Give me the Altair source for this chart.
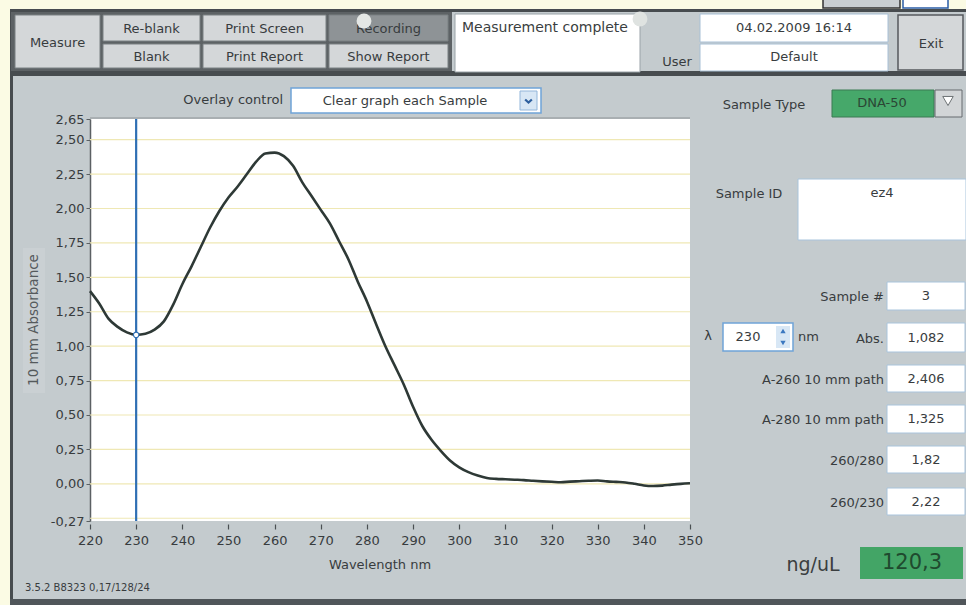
import altair as alt
import pandas as pd

# ---- spectrum (10 mm path absorbance) ----
wavelength_nm = [220, 222, 224, 226, 228, 230, 232, 234, 236, 238,
                 240, 242, 244, 246, 248, 250, 252, 254, 256, 258,
                 260, 262, 264, 266, 268, 270, 272, 274, 276, 278,
                 280, 282, 284, 286, 288, 290, 292, 294, 296, 298,
                 300, 302, 304, 306, 308, 310, 312, 314, 316, 318,
                 320, 322, 324, 326, 328, 330, 332, 334, 336, 338,
                 340, 342, 344, 346, 348, 350]
absorbance = [1.40, 1.31, 1.20, 1.14, 1.10, 1.082, 1.09, 1.12, 1.18, 1.30,
              1.45, 1.58, 1.72, 1.86, 1.98, 2.08, 2.16, 2.25, 2.34, 2.40,
              2.406, 2.38, 2.31, 2.19, 2.09, 1.99, 1.89, 1.76, 1.63, 1.47,
              1.325, 1.16, 1.00, 0.86, 0.72, 0.56, 0.42, 0.32, 0.24, 0.17,
              0.12, 0.085, 0.06, 0.042, 0.036, 0.033, 0.030, 0.027, 0.022, 0.018,
              0.015, 0.012, 0.016, 0.019, 0.022, 0.024, 0.018, 0.014, 0.010, 0.000,
              -0.012, -0.016, -0.013, -0.006, 0.000, 0.004]

x_ticks = [220, 230, 240, 250, 260, 270, 280, 290, 300, 310, 320, 330, 340, 350]
y_ticks = [2.65, 2.50, 2.25, 2.00, 1.75, 1.50, 1.25, 1.00, 0.75, 0.50, 0.25, 0.00, -0.27]
grid_levels = [2.50, 2.25, 2.00, 1.75, 1.50, 1.25, 1.00, 0.75, 0.50, 0.25, 0.00, -0.25]
x_domain = [220, 350]
y_domain = [-0.27, 2.65]

cursor_nm = 230
cursor_abs = 1.082

# ---- instrument readouts ----
readout_labels = ["Sample #", "Abs.", "A-260 10 mm path", "A-280 10 mm path", "260/280", "260/230"]
readout_values = ["3", "1,082", "2,406", "1,325", "1,82", "2,22"]
concentration = "120,3"
sample_type = "DNA-50"
sample_id = "ez4"
timestamp = "04.02.2009  16:14"
user_name = "Default"
status_text = "Measurement complete"
overlay_mode = "Clear graph each Sample"
firmware = "3.5.2 B8323 0,17/128/24"

# ---- page geometry ----
W, H = 966, 605
PL, PT, PR, PB = 90, 119, 690, 521          # plot-area edges in page pixels
FONT = "DejaVu Sans"
INK = "#383c3e"
PANEL = "#c4cbce"
BTN = "#d4d7d9"
DARK = "#474c4f"
PAPER = "#fbfbe4"
GREEN = "#46a86a"

one = pd.DataFrame({"_": [0]})


def rect(x0, y0, x1, y1, fill, stroke=None, sw=1.0):
    kw = {"fill": fill}
    if stroke:
        kw.update(stroke=stroke, strokeWidth=sw)
    else:
        kw.update(strokeWidth=0)
    return alt.Chart(one).mark_rect(**kw).encode(
        x=alt.value(x0 - PL), x2=alt.value(x1 - PL),
        y=alt.value(y0 - PT), y2=alt.value(y1 - PT))


def txt(x, y, s, size=13, color=INK, align="center", weight="normal", angle=0):
    kw = dict(text=s, fontSize=size, color=color, align=align, baseline="middle",
              font=FONT, fontWeight=weight)
    if angle:
        kw["angle"] = angle
    return alt.Chart(one).mark_text(**kw).encode(x=alt.value(x - PL), y=alt.value(y - PT))


def glyph(x, y, shape, size, fill=None, stroke=None, sw=1.0):
    kw = {"shape": shape, "size": size, "opacity": 1}
    if fill:
        kw.update(filled=True, fill=fill)
    else:
        kw.update(filled=False)
    if stroke:
        kw.update(stroke=stroke, strokeWidth=sw)
    return alt.Chart(one).mark_point(**kw).encode(x=alt.value(x - PL), y=alt.value(y - PT))


layers = []

# paper margin and frame
layers += [
    rect(0, 0, 10, H, PAPER),
    rect(0, 0, W, 9, PAPER),
    rect(823, -2, 900, 8, "#c9ced1", "#333", 1.5),
    rect(903, -2, 948, 8, "white", "#2a5ca8", 1.5),
    rect(10, 9, 13, H, DARK),
    rect(10, 9, W, 12, DARK),
    rect(11, 12, 452, 71, "#5d6265"),
    rect(10, 71, W, 76, DARK),
    rect(10, 599, W, H, "#50565a"),
]

# toolbar buttons
buttons = [
    (15, 15, 100, 68, "Measure", BTN),
    (103, 15, 200, 41, "Re-blank", BTN),
    (103, 44, 200, 68, "Blank", BTN),
    (203, 15, 326, 41, "Print Screen", BTN),
    (203, 44, 326, 68, "Print Report", BTN),
    (329, 15, 448, 41, "Recording", "#8e9396"),
    (329, 44, 448, 68, "Show Report", BTN),
]
for x0, y0, x1, y1, name, fill in buttons:
    layers.append(rect(x0, y0, x1, y1, fill, "#7b8083", 1))
    layers.append(txt((x0 + x1) / 2, (y0 + y1) / 2 + 1, name, size=13))

layers += [
    glyph(364, 21, "circle", 220, fill="#e4e7e5"),
    rect(455, 14, 640, 72, "white", "#9aa3a8", 1),
    txt(462, 28, status_text, size=14, align="left", color="#3a3e40"),
    glyph(640, 19, "circle", 220, fill="#dfe3e1"),
    txt(677, 62, "User", size=13),
    rect(700, 14, 888, 42, "white", "#a8c0d6", 1),
    txt(794, 28, timestamp, size=13),
    rect(700, 44, 888, 71, "white", "#a8c0d6", 1),
    txt(794, 57, user_name, size=13),
    rect(898, 15, 963, 70, BTN, "#555a5d", 1.5),
    txt(931, 44, "Exit", size=13),
]

# graph controls
layers += [
    txt(283, 100, "Overlay control", size=13, align="right"),
    rect(291, 88, 541, 113, "white", "#6fa4d8", 1.5),
    txt(405, 101, overlay_mode, size=13),
    rect(520, 91, 537, 110, "#d8e7f5", "#93b6da", 1),
    glyph(528.5, 101, "M -1 -0.45 L 0 0.45 L 1 -0.45", 45, stroke="#2d5f9e", sw=2.2),
    rect(23, 248, 45, 393, "#cad0d3"),
    txt(34, 320, "10 mm Absorbance", size=13.5, color="#555a5c", angle=270),
    txt(380, 565, "Wavelength nm", size=13),
    txt(25, 588, firmware, size=10, align="left"),
]

# right-hand sample panel
layers += [
    txt(764, 105, "Sample Type", size=13),
    rect(832, 90, 934, 117, GREEN, "#3a7a52", 1),
    txt(882, 103, sample_type, size=13, color="#2b4634"),
    rect(935, 90, 962, 117, "#d2d5d7", "#666b6e", 1),
    glyph(948, 101, "triangle-down", 110, fill="white", stroke="#6d7275", sw=1),
    txt(749, 194, "Sample ID", size=13),
    rect(798, 179, 966, 240, "white", "#a9c4dc", 1),
    txt(882, 193, sample_id, size=13),
    txt(708, 336, "λ", size=13),
    rect(723, 323, 793, 351, "white", "#6fa4d8", 1.5),
    txt(748, 337, str(cursor_nm), size=13),
    rect(776, 326, 790, 348, "#d8e7f5"),
    glyph(783, 331, "triangle-up", 28, fill="#3b78c0"),
    glyph(783, 343, "triangle-down", 28, fill="#3b78c0"),
    txt(798, 337, "nm", size=13, align="left"),
]
row_boxes = [(282, 310), (323, 352), (365, 392), (405, 433), (446, 473), (488, 515)]
for (y0, y1), name, val in zip(row_boxes, readout_labels, readout_values):
    ym = (y0 + y1) / 2
    layers.append(txt(884, ym + 1, name, size=13, align="right"))
    layers.append(rect(887, y0, 965, y1, "white", "#a9c4dc", 1))
    layers.append(txt(926, ym, val, size=13))

layers += [
    txt(813, 565, "ng/uL", size=19, color="#3a3e40"),
    rect(860, 547, 963, 579, "#43a566"),
    txt(912, 563, concentration, size=21, color="#1f4a2e"),
]

# ---- spectrum plot ----
xs = alt.Scale(domain=x_domain, nice=False, zero=False)
ys = alt.Scale(domain=y_domain, nice=False, zero=False)

# decimal comma, plain hyphen for negatives
y_label_expr = ("(datum.value < 0 ? '-' : '') + "
                "replace(format(abs(datum.value), '.2f'), '.', ',')")

x_axis = alt.Axis(
    values=x_ticks, title=None, grid=False, domain=False, ticks=True, tickSize=5,
    tickColor="#4a4f52", tickWidth=1.2, offset=3, labelPadding=5, labelFontSize=13,
    labelFont=FONT, labelColor=INK, labelFlush=False, labelOverlap=False)
y_axis = alt.Axis(
    values=y_ticks, title=None, grid=False, domain=True, domainColor="#5b6063",
    domainWidth=1.5, tickSize=4, tickColor="#5b6063", labelPadding=2,
    labelFontSize=13, labelFont=FONT, labelColor=INK, labelFlush=False,
    labelOverlap=False, labelExpr=y_label_expr)

grid = alt.Chart(pd.DataFrame({"level": grid_levels})).mark_rule(
    color="#efe8b4", strokeWidth=1.2).encode(y=alt.Y("level:Q", scale=ys, axis=y_axis))

top_edge = alt.Chart(one).mark_rule(color="#8d9396", strokeWidth=1.2).encode(
    x=alt.value(0), x2=alt.value(PR - PL), y=alt.value(-1))

spectrum = alt.Chart(pd.DataFrame({"nm": wavelength_nm, "A": absorbance})).mark_line(
    color="#2e3936", strokeWidth=2.6, interpolate="monotone").encode(
    x=alt.X("nm:Q", scale=xs, axis=x_axis),
    y=alt.Y("A:Q", scale=ys, axis=y_axis),
)

cursor_df = pd.DataFrame({"nm": [cursor_nm], "lo": [y_domain[0]], "hi": [y_domain[1]],
                          "A": [cursor_abs]})
cursor = alt.Chart(cursor_df).mark_rule(color="#2f6fb4", strokeWidth=2.2).encode(
    x=alt.X("nm:Q", scale=xs, axis=x_axis), y=alt.Y("lo:Q", scale=ys, axis=y_axis), y2="hi:Q")
cursor_pt = alt.Chart(cursor_df).mark_point(
    filled=True, fill="white", stroke="#2f6fb4", strokeWidth=1.2, size=30, opacity=1).encode(
    x=alt.X("nm:Q", scale=xs, axis=x_axis), y=alt.Y("A:Q", scale=ys, axis=y_axis))

chart = alt.layer(*layers, grid, top_edge, spectrum, cursor, cursor_pt).properties(
    width=PR - PL, height=PB - PT,
    autosize=alt.AutoSizeParams(type="none"),
    padding={"left": PL, "top": PT, "right": W - PR, "bottom": H - PB},
    background=PANEL,
).configure_view(fill="white", strokeWidth=0)

chart.save("out.html", embed_options={"renderer": "svg", "actions": False})
